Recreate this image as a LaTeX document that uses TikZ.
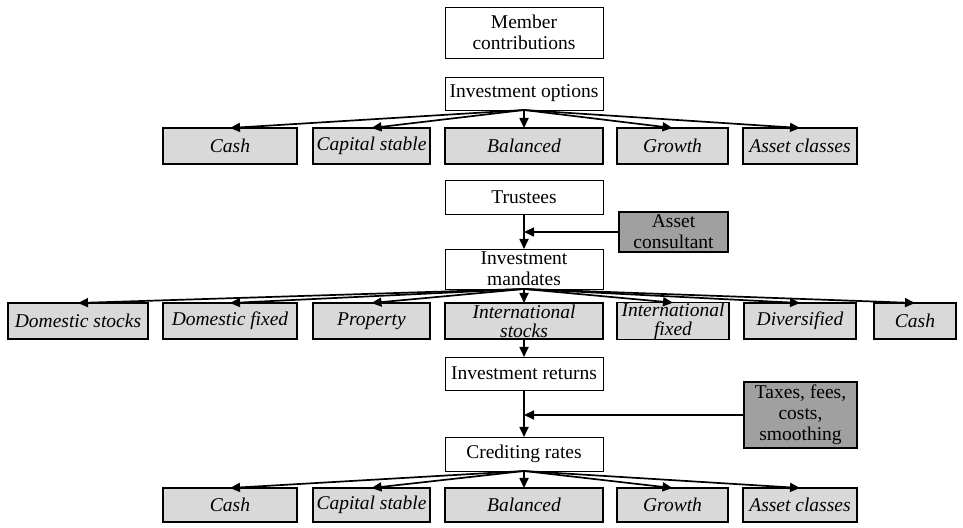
\documentclass[tikz,border=0pt]{standalone}
\usepackage{fontspec}
\setmainfont{Liberation Serif}
\usetikzlibrary{arrows.meta,positioning}
\definecolor{Shade}{HTML}{D9D9D9}
\definecolor{ShadeDark}{HTML}{A0A0A0}

\begin{document}
\begin{tikzpicture}[x=1pt,y=1pt,
    box/.style={draw,line width=0.9pt,fill=white,outer sep=0pt,inner xsep=2pt,inner ysep=1pt,
      minimum width=158pt,align=center,font=\fontsize{19.5}{21}\selectfont},
    fund/.style={box,fill=Shade,line width=1.4pt,minimum height=36pt,inner ysep=0pt,
      font=\fontsize{19.5}{19}\selectfont\itshape},
    side/.style={box,fill=ShadeDark,line width=1.4pt},
    flow/.style={-{Triangle[length=10pt,width=9pt]},line width=1.7pt}]
  \useasboundingbox (0,0) rectangle (963,527);
  % contributions and options
  \node[box,minimum height=51pt] (contrib) at (524,494.5) {Member\\contributions};
  \node[box,minimum height=33pt,below=19pt of contrib] (options) {Investment options};
  \node[fund,below=18pt of options] (bal1) {Balanced};
  \node[fund,minimum width=117pt,left=15pt of bal1] (cap1) {Capital stable};
  \node[fund,minimum width=134pt,left=16pt of cap1] (cash1) {Cash};
  \node[fund,minimum width=111pt,right=14pt of bal1] (growth1) {Growth};
  \node[fund,minimum width=114pt,right=15pt of growth1] (asset1) {Asset classes};
  % trustees and mandates
  \node[box,minimum height=34pt,below=16pt of bal1] (trustees) {Trustees};
  \node[side,minimum width=109pt,minimum height=40pt] (consultant) at (673.5,295) {Asset\\consultant};
  \node[box,minimum height=40pt,below=35pt of trustees] (mandates) {Investment\\mandates};
  \node[fund,below=14pt of mandates] (intst) {International\\stocks};
  \node[fund,minimum width=117pt,left=15pt of intst] (prop) {Property};
  \node[fund,minimum width=134pt,left=16pt of prop] (domfx) {Domestic fixed};
  \node[fund,minimum width=140pt,left=15pt of domfx] (domst) {Domestic stocks};
  \node[fund,minimum width=112pt,right=14pt of intst] (intfx) {International\\fixed};
  \node[fund,minimum width=112pt,right=15pt of intfx] (divers) {Diversified};
  \node[fund,minimum width=82pt,right=18pt of divers] (cash2) {Cash};
  % returns and crediting rates
  \node[box,minimum height=33pt,below=18pt of intst] (returns) {Investment returns};
  \node[side,minimum width=113pt,minimum height=66pt] (taxes) at (800.5,112) {Taxes, fees,\\costs,\\smoothing};
  \node[box,minimum height=34pt,below=47pt of returns] (crediting) {Crediting rates};
  \node[fund,minimum height=34pt,below=17pt of crediting] (bal3) {Balanced};
  \node[fund,minimum height=34pt,minimum width=117pt,left=15pt of bal3] (cap3) {Capital stable};
  \node[fund,minimum height=34pt,minimum width=134pt,left=16pt of cap3] (cash3) {Cash};
  \node[fund,minimum height=34pt,minimum width=111pt,right=14pt of bal3] (growth3) {Growth};
  \node[fund,minimum height=34pt,minimum width=114pt,right=15pt of growth3] (asset3) {Asset classes};
  % connectors
  \foreach \n in {cash1,cap1,bal1,growth1,asset1}
    \draw[flow] (options.south) -- (\n.north);
  \draw[flow] (trustees.south) -- (mandates.north);
  \coordinate (consjoin) at (consultant.west -| trustees.south);
  \draw[flow] (consultant.west) -- (consjoin);
  \foreach \n in {domst,domfx,prop,intst,intfx,divers,cash2}
    \draw[flow] (mandates.south) -- (\n.north);
  \draw[flow] (intst.south) -- (returns.north);
  \draw[flow] (returns.south) -- (crediting.north);
  \coordinate (taxjoin) at (taxes.west -| returns.south);
  \draw[flow] (taxes.west) -- (taxjoin);
  \foreach \n in {cash3,cap3,bal3,growth3,asset3}
    \draw[flow] (crediting.south) -- (\n.north);
\end{tikzpicture}
\end{document}
